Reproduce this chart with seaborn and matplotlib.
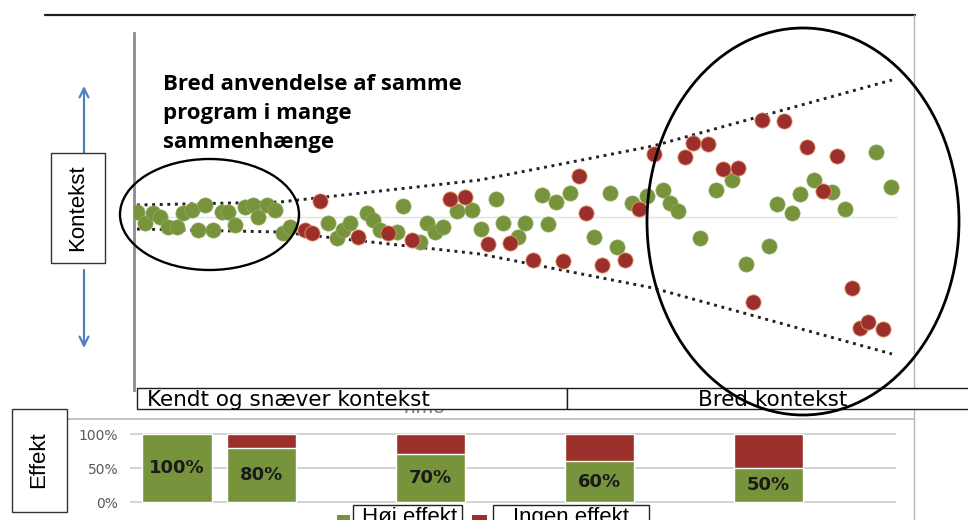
import matplotlib
matplotlib.use("Agg")
import matplotlib.pyplot as plt
from matplotlib.patches import Ellipse, Rectangle
import seaborn as sns

# ---------------- data ----------------
# scatter: time (x) and context deviation (y)
green_time = [137, 145, 153, 160, 168, 177, 183, 192, 198, 205, 213, 222, 228, 235, 245, 253, 258, 267, 275, 283, 290,
              328, 337, 343, 350, 367, 373, 380, 397, 403, 420, 427, 435, 443, 457, 472, 481,
              496, 503, 518, 525, 542, 548, 556, 570, 594, 610, 617, 632, 647, 663, 670, 678,
              700, 716, 732, 746, 769, 777, 792, 800, 814, 832, 845, 876, 891]
green_ctx = [5, -6, 4, 0, -10, -10, 4, 7, -13, 12, -13, 5, 5, -8, 10, 12, 0, 12, 7, -16, -10,
             -6, -21, -13, -6, 4, -3, -13, -15, 11, -25, -6, -15, -10, 6, 7, -12,
             18, -6, -20, -6, 22, -7, 15, 24, -20, 24, -30, 14, 21, 27, 14, 6,
             -21, 27, 37, -47, -29, 13, 4, 23, 37, 25, 8, 65, 30]
red_time = [305, 312, 320, 358, 388, 412, 450, 465, 488, 510, 533, 563, 579, 586, 602, 625, 639,
            654, 685, 693, 708, 723, 738, 762, 784, 807, 837, 823, 753, 852, 860, 868, 883]
red_ctx = [-13, -16, 16, -20, -16, -23, 18, 20, -27, -26, -43, -44, 41, 4, -48, -43, 8,
           63, 60, 74, 73, 48, 49, 97, 96, 70, 61, 26, -85, -71, -111, -105, -112]
# funnel envelope
env_time = [137, 280, 480, 653, 892]
env_half = [12, 15, 37, 71, 137]

# bar chart
stage_pos = [0, 1, 3, 5, 7]
hoj = [100, 80, 70, 60, 50]
ingen = [0, 20, 30, 40, 50]
bar_labels = ["100%", "80%", "70%", "60%", "50%"]
ytick_vals = [0, 50, 100]
ytick_labels = ["0%", "50%", "100%"]

GREEN = "#77933C"
RED = "#9B2F2C"
BLUE = "#4F81BD"

sns.set_theme(style="white")
plt.rcParams['font.family'] = ['Liberation Sans', 'DejaVu Sans']

W, H = 968, 520
fig = plt.figure(figsize=(9.68, 5.2), dpi=100)
fig.patch.set_facecolor("white")


def fx(px):
    return px / W


def fy(py):
    return 1 - py / H


# ---------------- scatter ----------------
ax = fig.add_axes([fx(134), fy(390), fx(914) - fx(134), fy(33) - fy(390)])
ax.axhline(0, xmin=0, xmax=(897 - 134) / 780, color="#e2e2e2", lw=1, zorder=1)
sns.scatterplot(x=green_time, y=green_ctx, color=GREEN, s=120, edgecolor="#93ad62",
                linewidth=0.5, ax=ax, zorder=3, legend=False)
sns.scatterplot(x=red_time, y=red_ctx, color=RED, s=120, edgecolor="#e39a70",
                linewidth=0.6, ax=ax, zorder=4, legend=False)
ax.plot(env_time, env_half, ls=(0, (1, 1.6)), lw=2.1, color="#222222", zorder=2)
ax.plot(env_time, [-h for h in env_half], ls=(0, (1, 1.6)), lw=2.1, color="#222222", zorder=2)
ax.set_xlim(134, 914)
ax.set_ylim(-173, 184)
ax.set_xticks([])
ax.set_yticks([])
ax.set_xlabel("")
ax.set_ylabel("")
for s in ["top", "right", "bottom"]:
    ax.spines[s].set_visible(False)
ax.spines["left"].set_color("#8c8c8c")
ax.spines["left"].set_linewidth(2)
ax.patch.set_alpha(0)

# ---------------- bars ----------------
pad = 2
bx = fig.add_axes([fx(130), fy(502 + pad * 0.68), fx(896) - fx(130), (68 + 2 * pad * 0.68) / H])
total = [a + b for a, b in zip(hoj, ingen)]
sns.barplot(x=stage_pos, y=total, native_scale=True, color=RED, saturation=1,
            width=0.82, ax=bx, zorder=2)
sns.barplot(x=stage_pos, y=hoj, native_scale=True, color=GREEN, saturation=1,
            width=0.82, ax=bx, zorder=3)
bx.set_xlim(-0.556, 8.51)
bx.set_ylim(-pad, 100 + pad)
bx.set_yticks(ytick_vals)
bx.set_yticklabels(ytick_labels, color="#595959", fontsize=10, family="DejaVu Sans")
bx.set_xticks([])
bx.tick_params(axis="y", length=0, pad=8.5)
bx.yaxis.grid(True, color="#cfcfcf", lw=1.3)
bx.set_axisbelow(True)
for s in bx.spines.values():
    s.set_visible(False)
bx.patch.set_alpha(0)
for p, h, lab in zip(stage_pos, hoj, bar_labels):
    bx.text(p, h / 2, lab, ha="center", va="center", fontsize=13, fontweight="bold",
            family="DejaVu Sans", color="#1a1a1a", zorder=5)

# ---------------- overlay annotations ----------------
ov = fig.add_axes([0, 0, 1, 1], zorder=10)
ov.set_xlim(0, W)
ov.set_ylim(H, 0)
ov.axis("off")
ov.patch.set_alpha(0)

ov.plot([45, 915], [15, 15], color="#1e1e1e", lw=1.6)
ov.plot([914, 914], [15, 520], color="#b3b3b3", lw=1)
ov.plot([67, 914], [419, 419], color="#bdbdbd", lw=1.3)

# heading
for yb, line in zip([90, 119.5, 148], ["Bred anvendelse af samme", "program i mange", "sammenhænge"]):
    ov.text(163, yb, line, family="Open Sans", fontweight="bold", fontsize=16,
            va="baseline", ha="left", color="black")

# ellipses
ov.add_patch(Ellipse((209.5, 214.5), 179, 111, fill=False, ec="black", lw=1.7, zorder=6))
ov.add_patch(Ellipse((803, 221.5), 312, 387, fill=False, ec="black", lw=2, zorder=6))

# Kontekst box + arrows
ov.add_patch(Rectangle((51, 153), 54, 110, fc="white", ec="#333333", lw=1, zorder=4))
ov.text(78, 208, "Kontekst", rotation=90, ha="center", va="center", fontsize=16, color="black", zorder=5)
ov.annotate("", xy=(84, 86), xytext=(84, 153),
            arrowprops=dict(arrowstyle="->", color=BLUE, lw=1.6, mutation_scale=16, shrinkA=0, shrinkB=0))
ov.annotate("", xy=(84, 348), xytext=(84, 270),
            arrowprops=dict(arrowstyle="->", color=BLUE, lw=1.6, mutation_scale=16, shrinkA=0, shrinkB=0))

# bottom context boxes
ov.text(422, 413, "Time", ha="center", va="baseline", fontsize=15, color="#7f7f7f", zorder=3)
ov.add_patch(Rectangle((137, 388), 430, 21, fc="white", ec="#1e1e1e", lw=1, zorder=4))
ov.add_patch(Rectangle((567, 388), 410, 21, fc="white", ec="#1e1e1e", lw=1, zorder=4))
ov.text(147, 406.5, "Kendt og snæver kontekst", ha="left", va="baseline", fontsize=15.5,
        family="DejaVu Sans", color="black", zorder=5)
ov.text(772.5, 406.5, "Bred kontekst", ha="center", va="baseline", fontsize=15.5,
        family="DejaVu Sans", color="black", zorder=7)

# Effekt box
ov.add_patch(Rectangle((12, 409), 55, 103, fc="white", ec="#333333", lw=1, zorder=4))
ov.text(39, 460, "Effekt", rotation=90, ha="center", va="center", fontsize=16, color="black", zorder=5)

# legend
ov.add_patch(Rectangle((337, 515), 13, 10, fc=GREEN, ec="none", zorder=4))
ov.add_patch(Rectangle((353, 505), 109, 20, fc="white", ec="#222222", lw=1, zorder=4))
ov.text(362, 523, "Høj effekt", ha="left", va="baseline", fontsize=16, color="black", zorder=5)
ov.add_patch(Rectangle((472, 515), 15, 10, fc=RED, ec="none", zorder=4))
ov.add_patch(Rectangle((493, 505), 156, 20, fc="white", ec="#222222", lw=1, zorder=4))
ov.text(513, 523, "Ingen effekt", ha="left", va="baseline", fontsize=16, color="black", zorder=5)

fig.savefig("out.png", dpi=100, facecolor="white")
